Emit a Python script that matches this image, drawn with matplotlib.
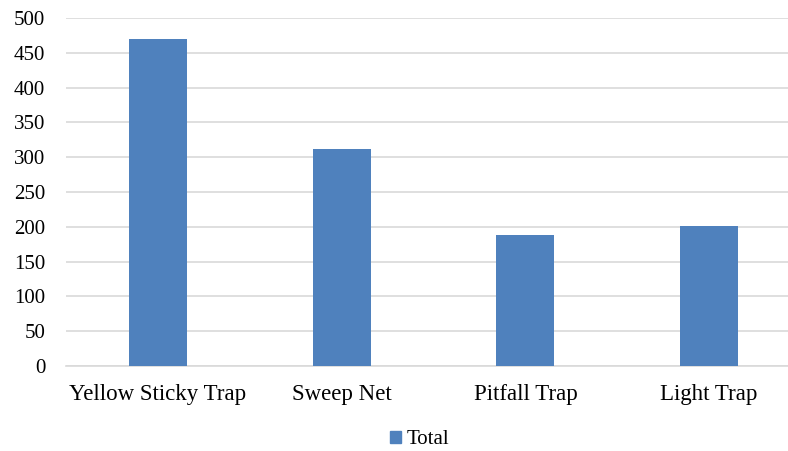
import matplotlib.pyplot as plt
from matplotlib.patches import Patch

# trap types and insect counts
traps = ['Yellow Sticky Trap', 'Sweep Net', 'Pitfall Trap', 'Light Trap']
totals = [470, 312, 188, 201]
yticks = [0, 50, 100, 150, 200, 250, 300, 350, 400, 450, 500]

plt.rcParams['font.family'] = ['Liberation Serif', 'DejaVu Serif']

fig = plt.figure(figsize=(7.88, 4.51), dpi=100)
ax = fig.add_axes([66 / 788, 1 - 366 / 451, (801 - 66) / 788, (366 - 18) / 451])

bar_color = '#4F81BD'
x = range(len(traps))
ax.bar(x, totals, width=0.316, color=bar_color, zorder=3)

ax.set_xlim(-0.5, len(traps) - 0.5)
ax.set_ylim(0, 500)
ax.set_yticks(yticks)
ax.set_xticks(list(x))
ax.set_xticklabels(traps)
ax.yaxis.grid(True, color='#D9D9D9', linewidth=1.2, zorder=0)
ax.set_axisbelow(True)
for s in ['top', 'right', 'left']:
    ax.spines[s].set_visible(False)
ax.spines['bottom'].set_color('#D9D9D9')
ax.spines['bottom'].set_linewidth(1.2)
ax.tick_params(axis='y', length=0, pad=15, labelsize=15)
ax.tick_params(axis='x', length=0, pad=13, labelsize=16.5)

fig.legend(handles=[Patch(color=bar_color, label='Total')], loc='center',
           bbox_to_anchor=(0.532, 1 - 440 / 451), frameon=False, fontsize=15,
           handlelength=0.55, handleheight=0.55, handletextpad=0.25)

fig.savefig('out.png', dpi=100)
